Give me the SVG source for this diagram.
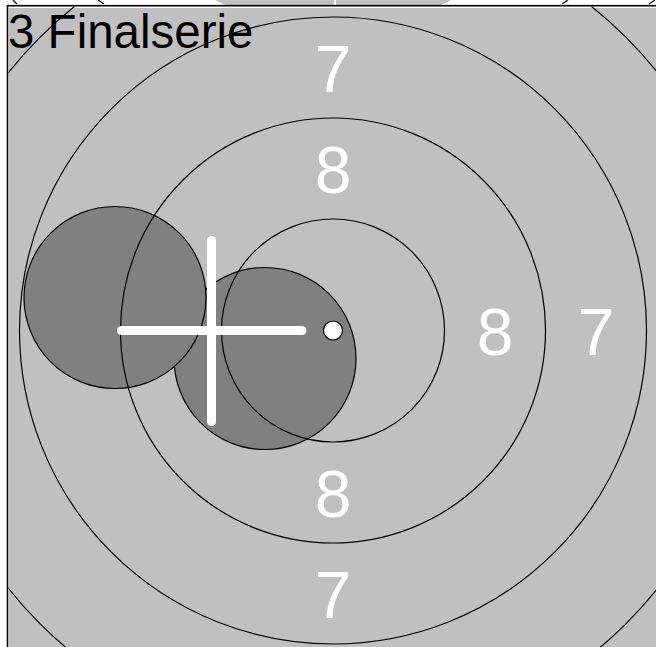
<svg xmlns="http://www.w3.org/2000/svg" width="656" height="647" viewBox="0 0 656 647">
<style>
.ring{fill:none;stroke:#000;stroke-width:1.2}
.shot{fill:#808080;stroke:#000;stroke-width:1.2}
.num{font-family:"Liberation Sans",Arial,sans-serif;font-size:66px;fill:#fff;text-anchor:middle}
.cross{stroke:#fff;stroke-width:9;stroke-linecap:round}
.prev{stroke:#000;stroke-width:1.2}
</style>
<defs>
<clipPath id="panelClip"><rect x="8.5" y="6.5" width="660" height="660"/></clipPath>
</defs>
<rect width="656" height="647" fill="#fff"/>
<g id="previous-panel">
<path d="M215,0 Q220,3 226,5 L441,5 Q446,3 451,0 Z" fill="#c0c0c0"/>
<line x1="335" y1="0" x2="335" y2="5" stroke="#fff" stroke-width="2"/>
<line class="prev" x1="13" y1="0" x2="17" y2="4"/>
<line class="prev" x1="98" y1="0" x2="104" y2="4"/>
<line class="prev" x1="568" y1="0" x2="562" y2="4"/>
<line class="prev" x1="655" y1="0" x2="649" y2="4"/>
</g>
<g id="panel">
<rect x="7.5" y="5.7" width="660" height="660" fill="#fff" stroke="#000" stroke-width="1.6"/>
<rect x="9" y="8" width="660" height="660" fill="#c0c0c0"/>
</g>
<g clip-path="url(#panelClip)">
<g id="shots">
<circle id="shot-2" class="shot" cx="265" cy="358.5" r="91"/>
<circle id="shot-1" class="shot" cx="115" cy="297.5" r="91"/>
</g>
<g id="rings">
<circle class="ring" cx="333" cy="330.5" r="111.5"/>
<circle class="ring" cx="333" cy="330.5" r="212.5"/>
<circle class="ring" cx="333" cy="330.5" r="313.5"/>
<circle class="ring" cx="333" cy="330.5" r="414.5"/>
</g>
<g id="labels">
<text class="num" x="333" y="91.5">7</text>
<text class="num" x="333" y="192.5">8</text>
<text class="num" x="495" y="354.5">8</text>
<text class="num" x="596" y="354.5">7</text>
<text class="num" x="333" y="516.5">8</text>
<text class="num" x="333" y="617.5">7</text>
</g>
<g id="connectors">
<line class="cross" x1="121.5" y1="330.5" x2="302" y2="330.5"/>
<line class="cross" x1="211.5" y1="240.5" x2="211.5" y2="421.5"/>
</g>
<g id="center">
<circle cx="333" cy="330.5" r="9.5" fill="#fff" stroke="#000" stroke-width="1.2"/>
</g>
</g>
<g id="title">
<text x="8" y="48" font-family="'Liberation Sans',Arial,sans-serif" font-size="47.5" fill="#000">3 Finalserie</text>
</g>
</svg>
